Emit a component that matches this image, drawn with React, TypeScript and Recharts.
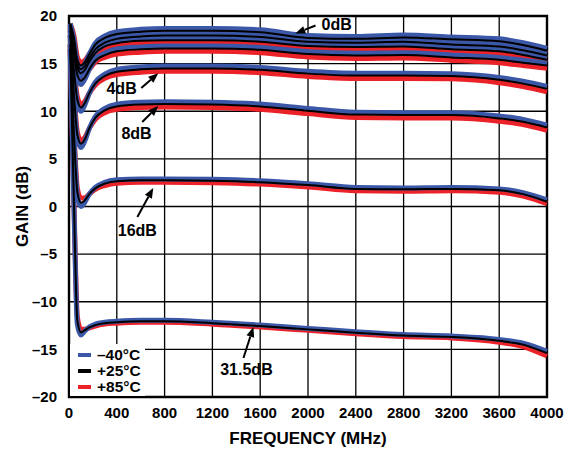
import React from "react";
import {
    LineChart,
    Line,
    XAxis,
    YAxis,
    CartesianGrid,
    Legend,
    ReferenceArea,
    ReferenceLine,
    ReferenceDot,
} from "recharts";

const FREQ_MHZ = [10, 40, 70, 100, 130, 170, 220, 300, 400, 600, 800, 1200, 1600, 2000, 2400, 2800, 3200, 3600, 3800, 4000];

// gain (dB) per attenuation state, -40 / +25 / +85 °C
const GAIN_0DB_M40 = [19.2, 17.6, 15.0, 14.4, 14.9, 16.0, 17.15, 17.9, 18.35, 18.6, 18.7, 18.7, 18.55, 17.95, 17.85, 18.0, 17.8, 17.6, 17.2, 16.6];
const GAIN_0DB_P25 = [19.2, 17.8, 15.4, 14.8, 15.1, 16.0, 17.0, 17.7, 18.1, 18.35, 18.45, 18.45, 18.3, 17.7, 17.6, 17.75, 17.55, 17.35, 16.95, 16.35];
const GAIN_0DB_P85 = [19.2, 18.0, 15.7, 15.15, 15.3, 16.0, 16.85, 17.45, 17.8, 18.05, 18.15, 18.15, 18.0, 17.4, 17.3, 17.45, 17.25, 17.05, 16.65, 16.05];

const GAIN_05DB_M40 = [19.1, 17.2, 14.6, 14.0, 14.5, 15.6, 16.65, 17.4, 17.85, 18.1, 18.2, 18.2, 18.05, 17.55, 17.45, 17.55, 17.25, 17.05, 16.65, 16.1];
const GAIN_05DB_P25 = [19.1, 17.4, 15.0, 14.4, 14.7, 15.6, 16.5, 17.2, 17.6, 17.85, 17.95, 17.95, 17.8, 17.3, 17.2, 17.3, 17.0, 16.8, 16.4, 15.85];
const GAIN_05DB_P85 = [19.1, 17.6, 15.3, 14.75, 14.9, 15.6, 16.35, 16.95, 17.3, 17.55, 17.65, 17.65, 17.5, 17.0, 16.9, 17.0, 16.7, 16.5, 16.1, 15.55];

const GAIN_1DB_M40 = [19.0, 16.8, 14.2, 13.6, 14.1, 15.2, 16.25, 17.0, 17.4, 17.65, 17.7, 17.7, 17.55, 17.1, 17.0, 17.05, 16.75, 16.55, 16.15, 15.65];
const GAIN_1DB_P25 = [19.0, 17.0, 14.6, 14.0, 14.3, 15.2, 16.1, 16.8, 17.15, 17.4, 17.45, 17.45, 17.3, 16.85, 16.75, 16.8, 16.5, 16.3, 15.9, 15.4];
const GAIN_1DB_P85 = [19.0, 17.2, 14.9, 14.35, 14.5, 15.2, 15.95, 16.55, 16.85, 17.1, 17.15, 17.15, 17.0, 16.55, 16.45, 16.5, 16.2, 16.0, 15.6, 15.1];

const GAIN_2DB_M40 = [18.8, 16.0, 13.4, 12.8, 13.3, 14.4, 15.45, 16.1, 16.55, 16.75, 16.85, 16.85, 16.7, 16.25, 16.1, 16.15, 15.9, 15.65, 15.35, 15.05];
const GAIN_2DB_P25 = [18.8, 16.2, 13.8, 13.2, 13.5, 14.4, 15.3, 15.9, 16.3, 16.5, 16.6, 16.6, 16.45, 16.0, 15.85, 15.9, 15.65, 15.4, 15.1, 14.8];
const GAIN_2DB_P85 = [18.8, 16.4, 14.1, 13.55, 13.7, 14.4, 15.15, 15.65, 16.0, 16.2, 16.3, 16.3, 16.15, 15.7, 15.55, 15.6, 15.35, 15.1, 14.8, 14.5];

const GAIN_4DB_M40 = [18.5, 14.3, 10.8, 10.0, 10.6, 11.9, 13.05, 13.9, 14.4, 14.65, 14.75, 14.75, 14.6, 14.2, 14.0, 14.0, 13.95, 13.55, 13.15, 12.6];
const GAIN_4DB_P25 = [18.5, 14.5, 11.2, 10.4, 10.8, 11.9, 12.9, 13.7, 14.15, 14.4, 14.5, 14.5, 14.35, 13.95, 13.75, 13.75, 13.7, 13.3, 12.9, 12.35];
const GAIN_4DB_P85 = [18.5, 14.7, 11.5, 10.75, 11.0, 11.9, 12.75, 13.45, 13.85, 14.1, 14.2, 14.2, 14.05, 13.65, 13.45, 13.45, 13.4, 13.0, 12.6, 12.05];

const GAIN_8DB_M40 = [18.0, 11.8, 7.1, 6.2, 6.8, 8.2, 9.45, 10.3, 10.75, 10.95, 11.0, 10.95, 10.75, 10.3, 9.9, 9.85, 9.85, 9.5, 9.15, 8.55];
const GAIN_8DB_P25 = [18.0, 12.0, 7.5, 6.6, 7.0, 8.2, 9.3, 10.1, 10.5, 10.7, 10.75, 10.7, 10.5, 10.05, 9.65, 9.6, 9.6, 9.25, 8.9, 8.3];
const GAIN_8DB_P85 = [18.0, 12.2, 7.8, 6.95, 7.2, 8.2, 9.15, 9.85, 10.2, 10.4, 10.45, 10.4, 10.2, 9.75, 9.35, 9.3, 9.3, 8.95, 8.6, 8.0];

const GAIN_16DB_M40 = [17.0, 7.8, 1.1, 0.0, 0.4, 1.3, 2.0, 2.55, 2.8, 2.9, 2.9, 2.85, 2.7, 2.4, 2.0, 1.95, 2.0, 1.85, 1.45, 0.7];
const GAIN_16DB_P25 = [17.0, 8.0, 1.5, 0.4, 0.6, 1.3, 1.9, 2.4, 2.65, 2.75, 2.75, 2.7, 2.55, 2.25, 1.85, 1.8, 1.85, 1.7, 1.3, 0.5];
const GAIN_16DB_P85 = [17.0, 8.2, 1.9, 0.9, 0.9, 1.3, 1.8, 2.2, 2.45, 2.55, 2.55, 2.5, 2.35, 2.05, 1.65, 1.6, 1.65, 1.5, 1.1, 0.3];

const GAIN_315DB_M40 = [16.5, 0.8, -12.4, -13.5, -13.1, -12.65, -12.35, -12.15, -12.05, -11.95, -11.95, -12.15, -12.45, -12.8, -13.15, -13.45, -13.6, -13.95, -14.35, -15.2];
const GAIN_315DB_P25 = [16.5, 1.0, -12.0, -13.2, -13.0, -12.7, -12.45, -12.25, -12.15, -12.05, -12.05, -12.25, -12.55, -12.9, -13.25, -13.55, -13.7, -14.1, -14.5, -15.4];
const GAIN_315DB_P85 = [16.5, 1.2, -11.6, -12.9, -12.9, -12.75, -12.55, -12.35, -12.25, -12.15, -12.15, -12.35, -12.65, -13.0, -13.35, -13.65, -13.8, -14.25, -14.7, -15.7];

const STATES = [
    { id: "a0", m40: GAIN_0DB_M40, p25: GAIN_0DB_P25, p85: GAIN_0DB_P85 },
    { id: "a05", m40: GAIN_05DB_M40, p25: GAIN_05DB_P25, p85: GAIN_05DB_P85 },
    { id: "a1", m40: GAIN_1DB_M40, p25: GAIN_1DB_P25, p85: GAIN_1DB_P85 },
    { id: "a2", m40: GAIN_2DB_M40, p25: GAIN_2DB_P25, p85: GAIN_2DB_P85 },
    { id: "a4", m40: GAIN_4DB_M40, p25: GAIN_4DB_P25, p85: GAIN_4DB_P85 },
    { id: "a8", m40: GAIN_8DB_M40, p25: GAIN_8DB_P25, p85: GAIN_8DB_P85 },
    { id: "a16", m40: GAIN_16DB_M40, p25: GAIN_16DB_P25, p85: GAIN_16DB_P85 },
    { id: "a315", m40: GAIN_315DB_M40, p25: GAIN_315DB_P25, p85: GAIN_315DB_P85 },
];

const TEMPS = [
    { key: "m40", name: "\u201340°C", color: "#3b58a8", width: 5 },
    { key: "p25", name: "+25°C", color: "#000000", width: 2 },
    { key: "p85", name: "+85°C", color: "#ec2229", width: 5 },
];
// drawing order: hot first, cold over it, room temp on top
const DRAW_ORDER = ["p85", "m40", "p25"];

const X_TICKS = [0, 400, 800, 1200, 1600, 2000, 2400, 2800, 3200, 3600, 4000];
const Y_TICKS = [-20, -15, -10, -5, 0, 5, 10, 15, 20];

// annotation text and arrows, in data units
const NOTES = [
    { text: "0dB", tx: 2240, ty: 19.15, x1: 2063, y1: 19.0, x2: 1894, y2: 18.15 },
    { text: "4dB", tx: 440, ty: 12.44, x1: 605, y1: 12.44, x2: 747, y2: 14.0 },
    { text: "8dB", tx: 565, ty: 7.72, x1: 613, y1: 8.87, x2: 747, y2: 10.55 },
    { text: "16dB", tx: 572, ty: -2.47, x1: 572, y1: -1.1, x2: 705, y2: 1.94 },
    { text: "31.5dB", tx: 1485, ty: -17.06, x1: 1460, y1: -15.9, x2: 1543, y2: -12.65 },
];

const FONT = "'Liberation Sans', Arial, Helvetica, sans-serif";

const rows = FREQ_MHZ.map((f, i) => {
    const row: Record<string, number> = { freq: f };
    STATES.forEach((s: any) => {
        TEMPS.forEach((t) => {
            row[`${s.id}_${t.key}`] = s[t.key][i];
        });
    });
    return row;
});

const fmtY = (v: number) => (v < 0 ? `\u2013${Math.abs(v)}` : `${v}`);

function Arrow(props: any) {
    const { x1, y1, x2, y2 } = props;
    const dx = x2 - x1;
    const dy = y2 - y1;
    const len = Math.sqrt(dx * dx + dy * dy) || 1;
    const ux = dx / len;
    const uy = dy / len;
    const head = 10;
    const half = 4;
    const bx = x2 - ux * head;
    const by = y2 - uy * head;
    const pts = `${x2},${y2} ${bx - uy * half},${by + ux * half} ${bx + uy * half},${by - ux * half}`;
    return (
        <g>
            <line x1={x1} y1={y1} x2={bx} y2={by} stroke="#000" strokeWidth={2} />
            <polygon points={pts} fill="#000" />
        </g>
    );
}

function NoteText(text: string) {
    return (props: any) => (
        <text
            x={props.cx}
            y={props.cy}
            dy="0.36em"
            textAnchor="middle"
            fontFamily={FONT}
            fontWeight="bold"
            fontSize={16}
            fill="#000">
            {text}
        </text>
    );
}

function TempLegend() {
    return (
        <div
            style={{
                background: "#fff",
                width: 75,
                height: 52,
                paddingTop: 3,
                boxSizing: "border-box",
                fontFamily: FONT,
                fontWeight: "bold",
                fontSize: 15.5,
            }}>
            {TEMPS.map((t) => (
                <div
                    key={t.key}
                    style={{ display: "flex", alignItems: "center", height: 16, lineHeight: "16px" }}>
                    <span
                        style={{
                            display: "inline-block",
                            width: 13,
                            height: 4,
                            background: t.color,
                            marginLeft: 8,
                            marginRight: 6,
                        }}
                    />
                    <span>{t.name}</span>
                </div>
            ))}
        </div>
    );
}

export default function App() {
    return (
        <div style={{ width: 570, height: 449, background: "#fff" }}>
            <style>{"body{margin:0}"}</style>
            <LineChart
                width={570}
                height={449}
                data={rows}
                margin={{ top: 16, right: 23, bottom: 0, left: 0 }}>
                <CartesianGrid stroke="#000" strokeWidth={1.3} />
                <XAxis
                    dataKey="freq"
                    type="number"
                    domain={[0, 4000]}
                    ticks={X_TICKS}
                    interval={0}
                    height={52}
                    tickLine={false}
                    tickSize={0}
                    tickMargin={10}
                    axisLine={false}
                    tick={{ fill: "#000", fontSize: 15, fontWeight: "bold", fontFamily: FONT }}
                    label={{
                        content: ({ viewBox }: any) => (
                            <text
                                x={viewBox.x + viewBox.width / 2}
                                y={viewBox.y + 47}
                                textAnchor="middle"
                                fontFamily={FONT}
                                fontWeight="bold"
                                fontSize={17}
                                fill="#000">
                                FREQUENCY (MHz)
                            </text>
                        ),
                    }}
                />
                <YAxis
                    type="number"
                    domain={[-20, 20]}
                    ticks={Y_TICKS}
                    interval={0}
                    width={69}
                    tickLine={false}
                    tickSize={0}
                    tickMargin={12}
                    axisLine={false}
                    tickFormatter={fmtY}
                    tick={{ fill: "#000", fontSize: 15, fontWeight: "bold", fontFamily: FONT }}
                    label={{
                        content: ({ viewBox }: any) => {
                            const cx = viewBox.x + 22;
                            const cy = viewBox.y + viewBox.height / 2;
                            return (
                                <text
                                    x={cx}
                                    y={cy}
                                    transform={`rotate(-90 ${cx} ${cy})`}
                                    textAnchor="middle"
                                    dy="0.36em"
                                    fontFamily={FONT}
                                    fontWeight="bold"
                                    fontSize={17}
                                    fill="#000">
                                    GAIN (dB)
                                </text>
                            );
                        },
                    }}
                />
                <ReferenceArea
                    x1={0}
                    x2={4000}
                    y1={-20}
                    y2={20}
                    fill="none"
                    stroke="#000"
                    strokeWidth={2.4}
                    fillOpacity={0}
                />
                {DRAW_ORDER.map((tk) => {
                    const t = TEMPS.find((x) => x.key === tk)!;
                    return STATES.map((s) => (
                        <Line
                            key={`${s.id}_${tk}`}
                            dataKey={`${s.id}_${tk}`}
                            name={t.name}
                            type="monotone"
                            stroke={t.color}
                            strokeWidth={t.width}
                            dot={false}
                            activeDot={false}
                            legendType="none"
                            isAnimationActive={false}
                        />
                    ));
                })}
                {NOTES.map((n) => (
                    <ReferenceLine
                        key={`arrow-${n.text}`}
                        segment={[
                            { x: n.x1, y: n.y1 },
                            { x: n.x2, y: n.y2 },
                        ]}
                        shape={Arrow}
                    />
                ))}
                {NOTES.map((n) => (
                    <ReferenceDot
                        key={`note-${n.text}`}
                        x={n.tx}
                        y={n.ty}
                        r={0}
                        shape={NoteText(n.text)}
                    />
                ))}
                <Legend
                    layout="vertical"
                    align="center"
                    verticalAlign="middle"
                    content={TempLegend}
                    wrapperStyle={{ left: 70, top: 344, width: 75, height: 52 }}
                />
            </LineChart>
        </div>
    );
}
